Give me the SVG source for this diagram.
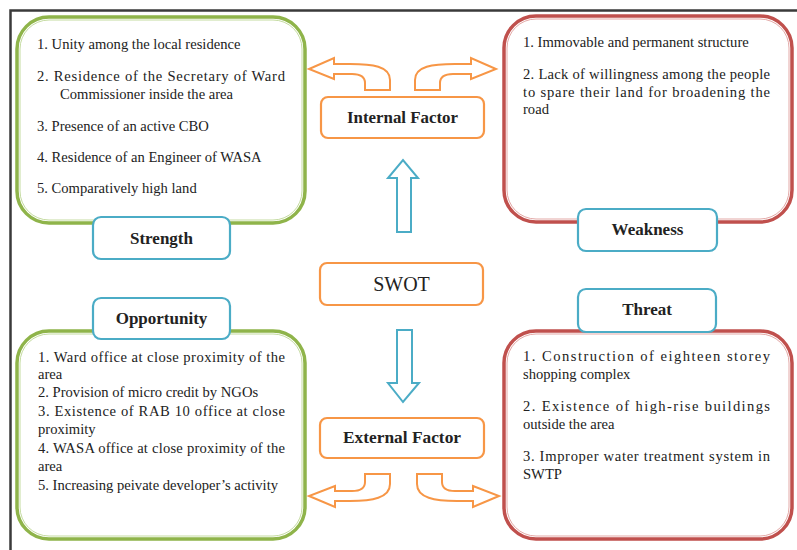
<svg xmlns="http://www.w3.org/2000/svg" width="797" height="550" viewBox="0 0 797 550">
<style>
.body{font-family:"Liberation Serif","Tinos","DejaVu Serif","Noto Serif",serif;font-size:14.6px;fill:#222}
.lbl{font-family:"Liberation Serif","Tinos","DejaVu Serif","Noto Serif",serif;font-size:17px;font-weight:bold;fill:#222;text-anchor:middle}
.gout{fill:#fff;stroke:#8fb44a;stroke-width:3.5}
.gin{fill:none;stroke:#c4dba0;stroke-width:1}
.rout{fill:#fff;stroke:#c0504d;stroke-width:3.5}
.rin{fill:none;stroke:#e3a9a7;stroke-width:1}
.tag{fill:#fff;stroke:#4bacc6;stroke-width:2.2}
.obox{fill:#fff;stroke:#f79646;stroke-width:2.2}
.oarr{fill:#fff;stroke:#f79646;stroke-width:2}
.barr{fill:#fff;stroke:#4bacc6;stroke-width:2}
</style>
<rect x="10.5" y="10.5" width="820" height="580" fill="#fff" stroke="#3a3a3a" stroke-width="2.5"/>

<g id="strength">
<rect class="gout" x="17" y="17" width="288" height="206" rx="32"/>
<rect class="gin" x="20" y="20" width="282" height="200" rx="29"/>
<text class="body" x="37" y="49">1. Unity among the local residence</text>
<text class="body" x="37" y="81" textLength="248" lengthAdjust="spacing">2. Residence of the Secretary of Ward</text>
<text class="body" x="60" y="99">Commissioner inside the area</text>
<text class="body" x="37" y="131">3. Presence of an active CBO</text>
<text class="body" x="37" y="162">4. Residence of an Engineer of WASA</text>
<text class="body" x="37" y="193">5. Comparatively high land</text>
</g>
<g id="strength-label">
<rect class="tag" x="93" y="217" width="137" height="42" rx="8"/>
<text class="lbl" x="161.5" y="244">Strength</text>
</g>

<g id="weakness">
<rect class="rout" x="504" y="16" width="288" height="206" rx="32"/>
<rect class="rin" x="507" y="19" width="282" height="200" rx="29"/>
<text class="body" x="523" y="47">1. Immovable and permanent structure</text>
<text class="body" x="523" y="79" textLength="247" lengthAdjust="spacing">2. Lack of willingness among the people</text>
<text class="body" x="523" y="97" textLength="247" lengthAdjust="spacing">to spare their land for broadening the</text>
<text class="body" x="523" y="114">road</text>
</g>
<g id="weakness-label">
<rect class="tag" x="578" y="209" width="139" height="42" rx="8"/>
<text class="lbl" x="647.5" y="235">Weakness</text>
</g>

<g id="opportunity">
<rect class="gout" x="17" y="331" width="288" height="208" rx="32"/>
<rect class="gin" x="20" y="334" width="282" height="202" rx="29"/>
<text class="body" x="38" y="362" textLength="247" lengthAdjust="spacing">1. Ward office at close proximity of the</text>
<text class="body" x="38" y="379">area</text>
<text class="body" x="38" y="397">2. Provision of micro credit by NGOs</text>
<text class="body" x="38" y="416" textLength="247" lengthAdjust="spacing">3. Existence of RAB 10 office at close</text>
<text class="body" x="38" y="434">proximity</text>
<text class="body" x="38" y="453" textLength="247" lengthAdjust="spacing">4. WASA office at close proximity of the</text>
<text class="body" x="38" y="471">area</text>
<text class="body" x="38" y="490">5. Increasing peivate developer’s activity</text>
</g>
<g id="opportunity-label">
<rect class="tag" x="93" y="298" width="137" height="41" rx="8"/>
<text class="lbl" x="161.5" y="324">Opportunity</text>
</g>

<g id="threat">
<rect class="rout" x="504" y="331" width="288" height="208" rx="32"/>
<rect class="rin" x="507" y="334" width="282" height="202" rx="29"/>
<text class="body" x="523" y="361" textLength="247" lengthAdjust="spacing">1.  Construction of eighteen storey</text>
<text class="body" x="523" y="379">shopping complex</text>
<text class="body" x="523" y="411" textLength="247" lengthAdjust="spacing">2. Existence of high-rise buildings</text>
<text class="body" x="523" y="429">outside the area</text>
<text class="body" x="523" y="461" textLength="247" lengthAdjust="spacing">3. Improper water treatment system in</text>
<text class="body" x="523" y="479">SWTP</text>
</g>
<g id="threat-label">
<rect class="tag" x="578" y="289" width="138" height="43" rx="8"/>
<text class="lbl" x="647" y="315">Threat</text>
</g>

<g id="internal-factor">
<rect class="obox" x="321" y="97" width="163" height="41" rx="7"/>
<text class="lbl" x="402.5" y="123" textLength="111" lengthAdjust="spacingAndGlyphs">Internal Factor</text>
</g>
<g id="swot">
<rect class="obox" x="320" y="263" width="163" height="42" rx="7"/>
<text class="lbl" x="401.5" y="291" style="font-size:20px;font-weight:normal">SWOT</text>
</g>
<g id="external-factor">
<rect class="obox" x="320" y="418" width="164" height="40" rx="7"/>
<text class="lbl" x="402" y="443" textLength="118" lengthAdjust="spacingAndGlyphs">External Factor</text>
</g>

<g id="connectors">
<path class="barr" d="M397 232 L397 178 L388 178 L403 160 L418 178 L411 178 L411 232 Z"/>
<path class="barr" d="M397 330 L397 383 L388 383 L403 402 L419 383 L412 383 L412 330 Z"/>
<path class="oarr" d="M390 90 L390 80 C390 66 372 64 350 64 L334 64 L334 58 L309 69 L334 79 L334 74 L352 74 C361 74 365 77 365 83 L365 90 Z"/>
<path class="oarr" d="M415 90 L415 80 C415 66 433 64 455 64 L471 64 L471 58 L496 69 L471 79 L471 74 L453 74 C444 74 440 77 440 83 L440 90 Z"/>
<path class="oarr" d="M390 474 L390 484 C390 498 372 501 350 501 L335 501 L335 507 L309 496 L335 486 L335 491 L352 491 C361 491 365 488 365 482 L365 474 Z"/>
<path class="oarr" d="M417 474 L417 484 C417 498 435 501 457 501 L473 501 L473 507 L499 496 L473 486 L473 491 L455 491 C446 491 442 488 442 482 L442 474 Z"/>
</g>
</svg>
